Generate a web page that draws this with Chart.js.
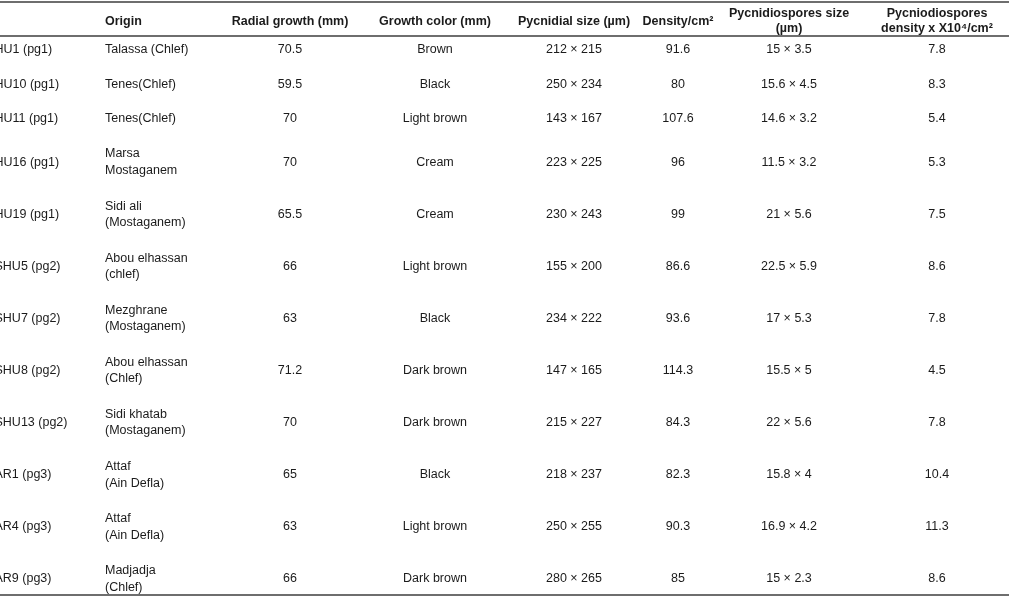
<!DOCTYPE html>
<html>
<head>
<meta charset="utf-8">
<script src="https://cdn.jsdelivr.net/npm/chart.js@4.4.1/dist/chart.umd.min.js"></script>
<style>
  html, body { margin: 0; padding: 0; background: #fff; }
  #wrap { width: 1017px; height: 600px; }
</style>
</head>
<body>
<div id="wrap"><canvas id="table1"></canvas></div>
<script>
// table data
const headers = ['', 'Origin', 'Radial growth (mm)', 'Growth color (mm)', 'Pycnidial size (µm)',
    'Density/cm²', 'Pycnidiospores size\n(µm)', 'Pycniodiospores\ndensity x X10⁴/cm²'];
const isolates = ['HU1 (pg1)', 'HU10 (pg1)', 'HU11 (pg1)', 'HU16 (pg1)', 'HU19 (pg1)', 'SHU5 (pg2)',
    'SHU7 (pg2)', 'SHU8 (pg2)', 'SHU13 (pg2)', 'AR1 (pg3)', 'AR4 (pg3)', 'AR9 (pg3)'];
const origins = ['Talassa (Chlef)', 'Tenes(Chlef)', 'Tenes(Chlef)', 'Marsa\nMostaganem', 'Sidi ali\n(Mostaganem)',
    'Abou elhassan\n(chlef)', 'Mezghrane\n(Mostaganem)', 'Abou elhassan\n(Chlef)', 'Sidi khatab\n(Mostaganem)',
    'Attaf\n(Ain Defla)', 'Attaf\n(Ain Defla)', 'Madjadja\n(Chlef)'];
const radialGrowth = [70.5, 59.5, 70, 70, 65.5, 66, 63, 71.2, 70, 65, 63, 66];
const growthColor = ['Brown', 'Black', 'Light brown', 'Cream', 'Cream', 'Light brown', 'Black',
    'Dark brown', 'Dark brown', 'Black', 'Light brown', 'Dark brown'];
const pycnidialSize = ['212 × 215', '250 × 234', '143 × 167', '223 × 225', '230 × 243', '155 × 200',
    '234 × 222', '147 × 165', '215 × 227', '218 × 237', '250 × 255', '280 × 265'];
const density = [91.6, 80, 107.6, 96, 99, 86.6, 93.6, 114.3, 84.3, 82.3, 90.3, 85];
const sporeSize = ['15 × 3.5', '15.6 × 4.5', '14.6 × 3.2', '11.5 × 3.2', '21 × 5.6', '22.5 × 5.9',
    '17 × 5.3', '15.5 × 5', '22 × 5.6', '15.8 × 4', '16.9 × 4.2', '15 × 2.3'];
const sporeDensity = [7.8, 8.3, 5.4, 5.3, 7.5, 8.6, 7.8, 4.5, 7.8, 10.4, 11.3, 8.6];

const columns = [isolates, origins, radialGrowth, growthColor, pycnidialSize, density, sporeSize, sporeDensity];

// layout (not data)
const colAnchor = [-5.5, 105, 290, 435, 574, 678, 789, 937];
const colAlign = ['left', 'left', 'center', 'center', 'center', 'center', 'center', 'center'];
const FONT = "'Liberation Sans', Arial, sans-serif";
const TEXT = '#1b1b1b';
const RULE = '#6e6e6e';

// rows with two-line cells are 1.5 units tall, others 1 unit
const rowCenter = [];
let acc = 0;
isolates.forEach((_, i) => {
    const lines = Math.max(...columns.map(col => String(col[i]).split('\n').length));
    const h = lines > 1 ? 1.5 : 1;
    rowCenter.push(acc + h / 2);
    acc += h;
});

const datasets = columns.map((col, c) => ({
    label: headers[c] || 'Isolate',
    data: col.map((v, i) => ({ x: colAnchor[c], y: rowCenter[i], text: String(v) })),
    pointRadius: 0,
    showLine: false
}));

function drawLines(ctx, text, x, y, lh) {
    const parts = text.split('\n');
    const top = y - (parts.length - 1) * lh / 2;
    parts.forEach((p, k) => ctx.fillText(p, x, top + k * lh));
}

const tablePlugin = {
    id: 'tableText',
    afterDatasetsDraw(chart) {
        const ctx = chart.ctx;
        const xs = chart.scales.x;
        const area = chart.chartArea;
        ctx.save();
        ctx.textBaseline = 'middle';
        ctx.fillStyle = TEXT;

        // body cells
        ctx.font = '12.5px ' + FONT;
        chart.data.datasets.forEach((ds, c) => {
            const meta = chart.getDatasetMeta(c);
            ctx.textAlign = colAlign[c];
            meta.data.forEach((pt, i) => drawLines(ctx, ds.data[i].text, pt.x, pt.y, 16.5));
        });

        // header
        ctx.font = 'bold 12.5px ' + FONT;
        headers.forEach((h, c) => {
            if (!h) return;
            ctx.textAlign = colAlign[c];
            drawLines(ctx, h, xs.getPixelForValue(colAnchor[c]), 21.5, 15);
        });

        // rules
        ctx.strokeStyle = RULE;
        ctx.lineWidth = 2;
        const x0 = xs.getPixelForValue(0), x1 = xs.getPixelForValue(1009);
        [2, area.top, area.bottom].forEach(y => {
            ctx.beginPath();
            ctx.moveTo(x0, y);
            ctx.lineTo(x1, y);
            ctx.stroke();
        });
        ctx.restore();
    }
};

new Chart(document.getElementById('table1'), {
    type: 'scatter',
    data: { datasets: datasets },
    options: {
        responsive: true,
        maintainAspectRatio: false,
        animation: false,
        layout: { padding: { top: 36, bottom: 5, left: 0, right: 0 } },
        plugins: { legend: { display: false }, tooltip: { enabled: false } },
        scales: {
            x: { type: 'linear', min: 0, max: 1017, display: false },
            y: { type: 'linear', min: 0.115, max: 16.21, reverse: true, display: false }
        }
    },
    plugins: [tablePlugin]
});
</script>
</body>
</html>
